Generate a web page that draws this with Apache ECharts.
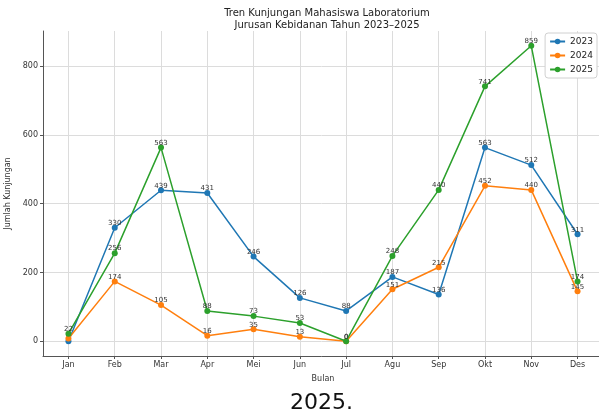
<!DOCTYPE html>
<html>
<head>
<meta charset="utf-8">
<script src="https://cdn.jsdelivr.net/npm/echarts@6/dist/echarts.min.js"></script>
<style>html,body{margin:0;padding:0;background:#fff}#c{width:599px;height:417px}</style>
</head>
<body>
<div id="c"></div>
<script>
const months = ['Jan','Feb','Mar','Apr','Mei','Jun','Jul','Agu','Sep','Okt','Nov','Des'];
const v2023 = [0, 330, 439, 431, 246, 126, 88, 187, 136, 563, 512, 311];
const v2024 = [8, 174, 105, 16, 35, 13, 0, 151, 215, 452, 440, 145];
const v2025 = [22, 256, 563, 88, 73, 53, 0, 248, 440, 741, 859, 174];
const yTicks = [0, 200, 400, 600, 800];
const seriesNames = ['2023', '2024', '2025'];
const colors = ['#1f77b4', '#ff7f0e', '#2ca02c'];
const allVals = [v2023, v2024, v2025];

const maxV = Math.max(...v2023, ...v2024, ...v2025);
const minV = Math.min(...v2023, ...v2024, ...v2025);
const pad = (maxV - minV) * 0.05;
const xIdx = months.map((m, i) => i);

const chart = echarts.init(document.getElementById('c'), null, {renderer: 'canvas'});
const font = 'DejaVu Sans';
chart.setOption({
  animation: false,
  textStyle: {fontFamily: font},
  title: {
    text: 'Tren Kunjungan Mahasiswa Laboratorium\nJurusan Kebidanan Tahun 2023\u20132025',
    left: 322, top: 3, textAlign: 'center',
    textStyle: {fontSize: 10, fontWeight: 'normal', color: '#222', lineHeight: 11.5, fontFamily: font}
  },
  legend: {
    orient: 'vertical', right: 2, top: 33,
    itemWidth: 15, itemHeight: 7, itemGap: 5,
    backgroundColor: '#fff', borderColor: '#d0d0d0', borderWidth: 1, borderRadius: 3,
    padding: [4, 4, 4, 4],
    textStyle: {fontSize: 9, color: '#222', fontFamily: font},
    data: seriesNames
  },
  grid: {left: 43, right: -4, top: 31, bottom: 61, containLabel: false, outerBoundsMode: 'none'},
  xAxis: {
    type: 'value', min: -0.55, max: months.length - 1 + 0.55,
    name: 'Bulan', nameLocation: 'middle', nameGap: 19,
    nameTextStyle: {fontSize: 8, color: '#333', fontFamily: font},
    axisLine: {show: true, onZero: false, lineStyle: {color: '#555', width: 1}},
    axisTick: {show: true, length: 3, customValues: xIdx, lineStyle: {color: '#555'}},
    axisLabel: {customValues: xIdx, fontSize: 8, color: '#333', margin: 5,
      formatter: v => months[Math.round(v)] || ''},
    splitLine: {show: true, lineStyle: {color: '#dcdcdc', width: 1}}
  },
  yAxis: {
    type: 'value', min: minV - pad, max: maxV + pad,
    name: 'Jumlah Kunjungan', nameLocation: 'middle', nameGap: 25,
    nameTextStyle: {fontSize: 8, color: '#333', fontFamily: font},
    axisLine: {show: true, onZero: false, lineStyle: {color: '#555', width: 1}},
    axisTick: {show: true, length: 3, customValues: yTicks, lineStyle: {color: '#555'}},
    axisLabel: {customValues: yTicks, fontSize: 8, color: '#333', margin: 5},
    splitLine: {show: true, lineStyle: {color: '#dcdcdc', width: 1}}
  },
  series: seriesNames.map((n, k) => ({
    name: n, type: 'line',
    data: allVals[k].map((v, i) => [i, v]),
    symbol: 'circle', symbolSize: 6,
    itemStyle: {color: colors[k]},
    lineStyle: {color: colors[k], width: 1.5},
    label: {show: true, position: 'top', distance: 0, offset: [0, 2], fontSize: 7, color: '#333',
      formatter: p => String(p.value[1])},
    z: 2 + k
  })),
  graphic: [{
    type: 'text', left: 290, top: 392,
    style: {text: '2025.', fontSize: 22, fill: '#111', fontFamily: font}
  }]
});
</script>
</body>
</html>
